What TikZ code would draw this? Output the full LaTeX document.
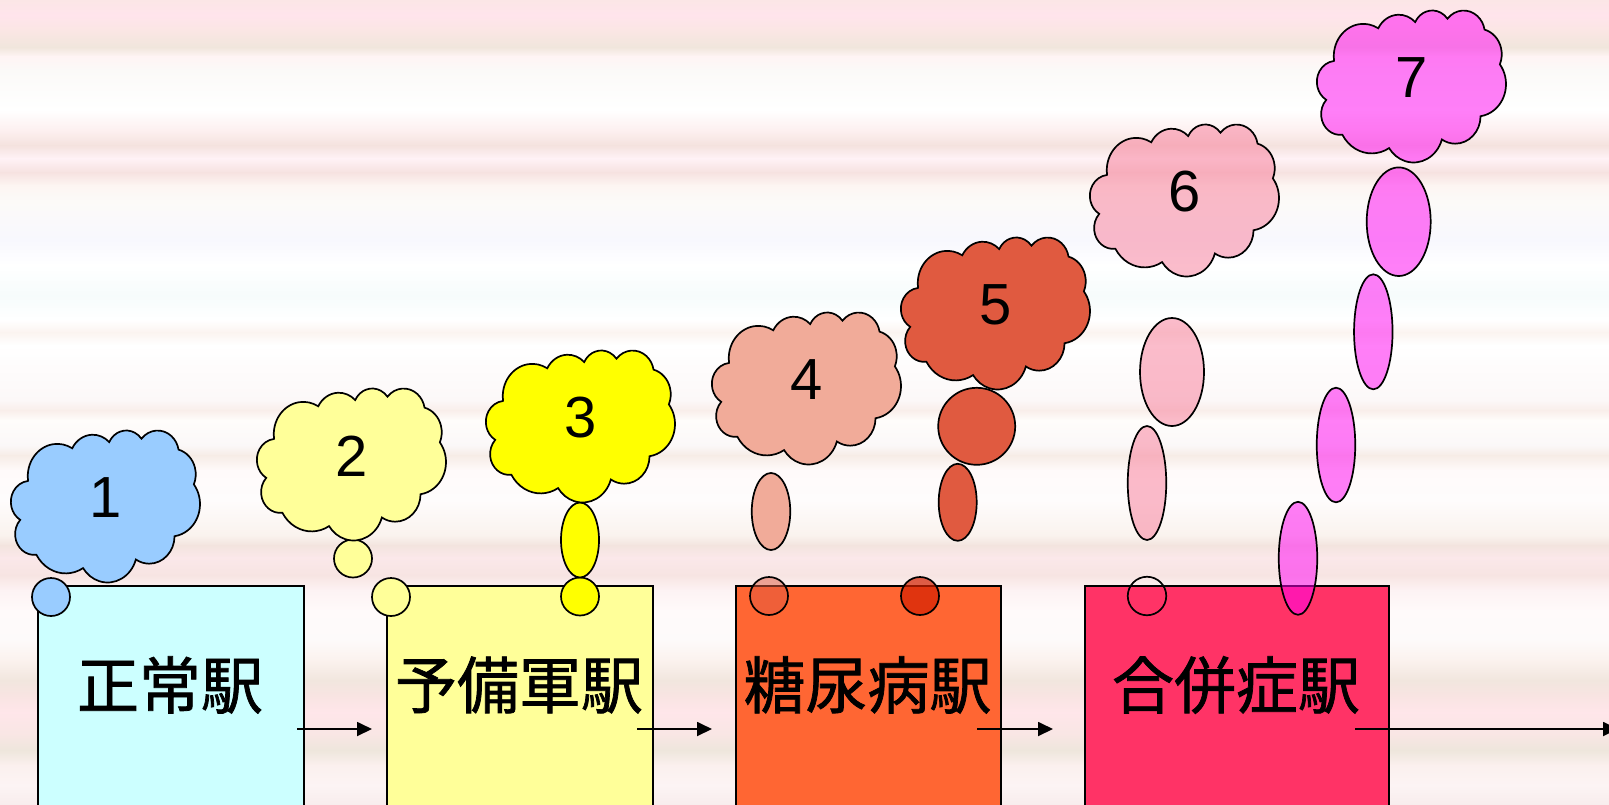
\documentclass[tikz,border=0pt]{standalone}
\usepackage{fontspec}
\setmainfont{Liberation Sans}
\newfontfamily\jpfont[FakeBold=1.2]{Noto Sans CJK JP}
\usetikzlibrary{arrows.meta,shapes.geometric}
\definecolor{box1c}{HTML}{CCFFFF}
\definecolor{box2c}{HTML}{FFFF99}
\definecolor{box3c}{HTML}{FF6633}
\definecolor{box4c}{HTML}{FF3366}
\definecolor{c1}{HTML}{99CCFF}
\definecolor{c2}{HTML}{FFFF99}
\definecolor{c3}{HTML}{FFFF00}
\definecolor{c4}{HTML}{F1AB99}
\definecolor{c5}{HTML}{E05A40}
\definecolor{c5dark}{HTML}{D32000}
\definecolor{c6}{HTML}{F87A98}
\definecolor{c7}{HTML}{FF00F2}
\tikzset{
  outl/.style={draw=black, line width=1.7pt},
  stationbox/.style={outl, rectangle, anchor=north west, minimum height=260, inner sep=0},
  stationtext/.style={font=\jpfont\fontsize{62}{62}\selectfont, inner sep=0, text=black},
  digit/.style={font=\fontsize{58}{58}\selectfont, inner sep=0, text=black},
  bubble/.style={outl, inner sep=0},
  arr/.style={line width=1.8pt, -{Triangle[length=15pt,width=14pt]}},
  cloudpic/.pic={
    \path[pic actions, xscale=0.4373, yscale=0.3517] (39.00,143.70)
      arc[start angle=-187.746, delta angle=128.109, x radius=67.53, y radius=91.90]
      arc[start angle=-152.035, delta angle=106.579, x radius=53.33, y radius=72.67]
      arc[start angle=-153.497, delta angle=116.179, x radius=43.65, y radius=59.45]
      arc[start angle=-139.692, delta angle=129.480, x radius=48.57, y radius=65.95]
      arc[start angle=-74.768, delta angle=97.978, x radius=53.33, y radius=72.73]
      arc[start angle=-37.521, delta angle=119.383, x radius=67.75, y radius=92.20]
      arc[start angle=0.460, delta angle=121.518, x radius=57.85, y radius=78.67]
      arc[start angle=16.845, delta angle=129.373, x radius=67.52, y radius=92.15]
      arc[start angle=58.985, delta angle=91.214, x radius=77.20, y radius=105.43]
      arc[start angle=83.306, delta angle=139.806, x radius=43.60, y radius=59.18]
      arc[start angle=120.365, delta angle=143.748, x radius=43.45, y radius=59.45]
      -- cycle;
  }
}
\begin{document}
\begin{tikzpicture}[x=1pt,y=-1pt]
\useasboundingbox (0,0) rectangle (1609,804);
\clip (0,0) rectangle (1609,804);
% background stripes
\foreach \ya/\yb/\ca/\cb in {0/15/FBE6E6/FFE4EC, 15/30/FFE4EC/FBE6E4, 30/47/FBE6E4/F0E6DC, 47/56/F0E6DC/FFF4F4, 56/70/FFF4F4/FBFAF8, 70/110/FBFAF8/FFFFFF, 110/130/FFFFFF/FDF0F0, 130/145/FDF0F0/F4E2DE, 145/158/F4E2DE/FFF2F6, 158/172/FFF2F6/F6E2E0, 172/185/F6E2E0/FDF5F2, 185/200/FDF5F2/FCFAF8, 200/240/FCFAF8/F8F8FE, 240/265/F8F8FE/FFFFFF, 265/295/FFFFFF/F6FCFC, 295/320/F6FCFC/FFFFFF, 320/332/FFFFFF/FBF4F0, 332/345/FBF4F0/FFFFFF, 345/400/FFFFFF/FCF8F8, 400/410/FCF8F8/F9EEEA, 410/420/F9EEEA/FFFDFB, 420/445/FFFDFB/FBF8F8, 445/455/FBF8F8/F6ECE6, 455/470/F6ECE6/FFFAFA, 470/500/FFFAFA/FEFCFC, 500/535/FEFCFC/FAF3EE, 535/545/FAF3EE/F3E4DE, 545/557/F3E4DE/FBE8EA, 557/575/FBE8EA/F7E4E2, 575/590/F7E4E2/FDF3F4, 590/610/FDF3F4/FFFAFA, 610/640/FFFAFA/FDFAFA, 640/660/FDFAFA/FBF2EE, 660/680/FBF2EE/F1E6DE, 680/695/F1E6DE/F8E4E2, 695/712/F8E4E2/FFE6EA, 712/735/FFE6EA/F8E6E4, 735/750/F8E6E4/EEE6DC, 750/765/EEE6DC/FBF0EE, 765/785/FBF0EE/FCF4F4, 785/804/FCF4F4/F8EDED}{
  \definecolor{ta}{HTML}{\ca}\definecolor{tb}{HTML}{\cb}
  \shade[top color=ta, bottom color=tb] (-1,\ya) rectangle (1610,\yb+0.7);
}
% station boxes
\node[stationbox, fill=box1c, minimum width=266] (b1) at (37,585) {};
\node[stationbox, fill=box2c, minimum width=266] (b2) at (386,585) {};
\node[stationbox, fill=box3c, minimum width=265] (b3) at (735,585) {};
\node[stationbox, fill=box4c, minimum width=304] (b4) at (1084,585) {};
\node[stationtext] (t1) at (170,685) {正常駅};
\node[stationtext] (t2) at (519,685) {予備軍駅};
\node[stationtext] (t3) at (867.5,685) {糖尿病駅};
\node[stationtext] (t4) at (1236,685) {合併症駅};
% arrows
\coordinate (a1s) at (297,729); \coordinate (a1e) at (372,729);
\coordinate (a2s) at (637,729); \coordinate (a2e) at (712,729);
\coordinate (a3s) at (977,729); \coordinate (a3e) at (1053,729);
\coordinate (a4s) at (1355,729); \coordinate (a4e) at (1618,729);
\draw[arr] (a1s) -- (a1e);
\draw[arr] (a2s) -- (a2e);
\draw[arr] (a3s) -- (a3e);
\draw[arr] (a4s) -- (a4e);
% thought bubbles
\node[bubble, circle, minimum size=38, fill=c1] (p1) at (51,597) {};
\node[bubble, circle, minimum size=38, fill=c2] (p2a) at (391,597) {};
\node[bubble, circle, minimum size=38, fill=c2] (p2b) at (353,558.5) {};
\node[bubble, circle, minimum size=38, fill=c3] (p3a) at (580,596.5) {};
\node[bubble, ellipse, minimum width=38, minimum height=75, fill=c3] (p3b) at (580,540) {};
\node[bubble, circle, minimum size=38, fill=c5, fill opacity=0.5] (p4a) at (769,596) {};
\node[bubble, ellipse, minimum width=38.5, minimum height=77, fill=c4] (p4b) at (771,511.5) {};
\node[bubble, circle, minimum size=38, fill=c5dark, fill opacity=0.7] (p5a) at (920,596) {};
\node[bubble, ellipse, minimum width=38, minimum height=77, fill=c5] (p5b) at (957.7,502.3) {};
\node[bubble, circle, minimum size=77, fill=c5] (p5c) at (976.7,426.3) {};
\node[bubble, circle, minimum size=38.5] (p6a) at (1147,596) {};
\node[bubble, ellipse, minimum width=38.5, minimum height=114, fill=c6, fill opacity=0.5] (p6b) at (1147,483) {};
\node[bubble, ellipse, minimum width=64, minimum height=108, fill=c6, fill opacity=0.5] (p6c) at (1172,372) {};
\node[bubble, ellipse, minimum width=38.5, minimum height=113, fill=c7, fill opacity=0.5] (p7a) at (1298,558.3) {};
\node[bubble, ellipse, minimum width=38.5, minimum height=114.6, fill=c7, fill opacity=0.5] (p7b) at (1336,445) {};
\node[bubble, ellipse, minimum width=38.5, minimum height=115, fill=c7, fill opacity=0.5] (p7c) at (1373.3,331.8) {};
\node[bubble, ellipse, minimum width=64, minimum height=108.6, fill=c7, fill opacity=0.5] (p7d) at (1398.7,221.7) {};
% clouds
\pic[outl, fill=c1] at (11,430) {cloudpic};
\pic[outl, fill=c2] at (257,388) {cloudpic};
\pic[outl, fill=c3] at (486,350) {cloudpic};
\pic[outl, fill=c4] at (712,312) {cloudpic};
\pic[outl, fill=c5] at (901,237) {cloudpic};
\pic[outl, fill=c6, fill opacity=0.5] at (1090,124) {cloudpic};
\pic[outl, fill=c7, fill opacity=0.5] at (1317,10) {cloudpic};
\node[digit] (n1) at (105.5,498) {1};
\node[digit] (n2) at (351.5,456.5) {2};
\node[digit] (n3) at (580.5,418) {3};
\node[digit] (n4) at (806.5,380) {4};
\node[digit] (n5) at (995.5,305) {5};
\node[digit] (n6) at (1184.5,191.5) {6};
\node[digit] (n7) at (1411.5,77.5) {7};
\end{tikzpicture}
\end{document}
